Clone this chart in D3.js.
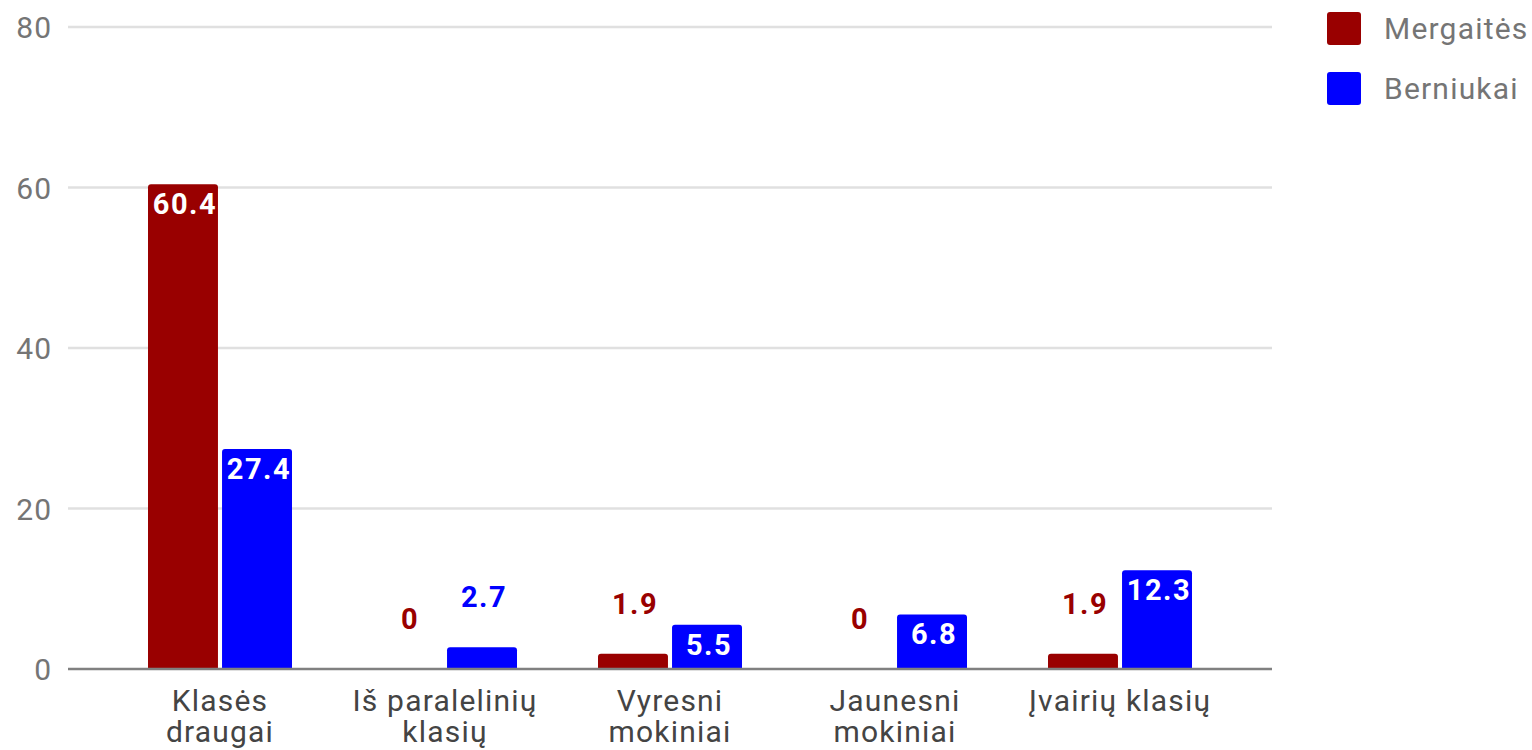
<!DOCTYPE html>
<html>
<head>
<meta charset="utf-8">
<script src="https://cdn.jsdelivr.net/npm/d3@7"></script>
<style>
  body { margin: 0; background: #fff; }
  text { font-family: Roboto, "Noto Sans", sans-serif; }
</style>
</head>
<body>
<script>
// ---------------- data ----------------
var categories = ["Klasės draugai", "Iš paralelinių klasių", "Vyresni mokiniai", "Jaunesni mokiniai", "Įvairių klasių"];
var seriesNames = ["Mergaitės", "Berniukai"];
var mergaites = [60.4, 0, 1.9, 0, 1.9];
var berniukai = [27.4, 2.7, 5.5, 6.8, 12.3];
var yTicks = [0, 20, 40, 60, 80];
var colors = ["#990000", "#0000ff"];

var W = 1532, H = 750;
var svg = d3.select("body").append("svg").attr("width", W).attr("height", H);

// ---------------- scales ----------------
var x0 = d3.scaleBand().domain(categories).range([107.5, 1232.5])
    .paddingInner(0.36).paddingOuter(0.18);
var x1 = d3.scaleBand().domain(seriesNames).range([0, x0.bandwidth()])
    .paddingInner(0.055);
var y = d3.scaleLinear().domain([0, 80]).range([669, 27]);
var color = d3.scaleOrdinal().domain(seriesNames).range(colors);

// ---------------- gridlines + y labels ----------------
svg.append("g").selectAll("line")
    .data(yTicks.filter(function(d) { return d > 0; }))
    .enter().append("line")
    .attr("x1", 68).attr("x2", 1272)
    .attr("y1", function(d) { return y(d); }).attr("y2", function(d) { return y(d); })
    .attr("stroke", "#e0e0e0").attr("stroke-width", 2.5);

svg.append("g").selectAll("text")
    .data(yTicks).enter().append("text")
    .attr("x", 52).attr("y", function(d) { return y(d) + 11; })
    .attr("text-anchor", "end")
    .attr("font-size", 30).attr("letter-spacing", 1).attr("fill", "#757575")
    .text(function(d) { return d; });

// ---------------- bars ----------------
var rows = categories.map(function(c, i) {
  return { cat: c, vals: [
    { key: seriesNames[0], value: mergaites[i] },
    { key: seriesNames[1], value: berniukai[i] }
  ]};
});

function topRounded(x, yTop, w, h, r) {
  if (h <= 0) return "";
  r = Math.min(r, h, w / 2);
  return "M" + x + "," + (yTop + h) +
    "V" + (yTop + r) + "Q" + x + "," + yTop + " " + (x + r) + "," + yTop +
    "H" + (x + w - r) + "Q" + (x + w) + "," + yTop + " " + (x + w) + "," + (yTop + r) +
    "V" + (yTop + h) + "Z";
}

var groups = svg.append("g").selectAll("g")
    .data(rows).enter().append("g")
    .attr("transform", function(d) { return "translate(" + x0(d.cat) + ",0)"; });

groups.selectAll("path")
    .data(function(d) { return d.vals; })
    .enter().append("path")
    .attr("d", function(d) {
      return topRounded(x1(d.key), y(d.value), x1.bandwidth(), y(0) - y(d.value), 3);
    })
    .attr("fill", function(d) { return color(d.key); });

// value labels: inside bar if it fits, else above it
groups.selectAll("text")
    .data(function(d) { return d.vals; })
    .enter().append("text")
    .attr("x", function(d) { return x1(d.key) + x1.bandwidth() / 2 + 2; })
    .attr("y", function(d) {
      var h = y(0) - y(d.value);
      return h > 35 ? y(d.value) + 30 : y(d.value) - 40;
    })
    .attr("text-anchor", "middle")
    .attr("font-size", 29).attr("font-weight", "bold").attr("letter-spacing", 1.5)
    .attr("fill", function(d) { return (y(0) - y(d.value)) > 35 ? "#fff" : color(d.key); })
    .text(function(d) { return d.value; });

// baseline
svg.append("line")
    .attr("x1", 68).attr("x2", 1272).attr("y1", y(0)).attr("y2", y(0))
    .attr("stroke", "#808080").attr("stroke-width", 2.5);

// ---------------- category labels ----------------
svg.append("g").selectAll("text")
    .data(categories).enter().append("text")
    .attr("x", function(d) { return x0(d) + x0.bandwidth() / 2; })
    .attr("y", 711)
    .attr("text-anchor", "middle")
    .attr("font-size", 30).attr("letter-spacing", 1.2).attr("fill", "#444")
    .each(function(d) {
      var el = d3.select(this), words = d.split(" "), line = [];
      var ts = el.append("tspan").attr("x", el.attr("x"));
      words.forEach(function(w) {
        line.push(w);
        ts.text(line.join(" "));
        if (ts.node().getComputedTextLength() > 200 && line.length > 1) {
          line.pop();
          ts.text(line.join(" "));
          line = [w];
          ts = el.append("tspan").attr("x", el.attr("x")).attr("dy", 31).text(w);
        }
      });
    });

// ---------------- legend ----------------
var legend = svg.append("g").selectAll("g")
    .data(seriesNames).enter().append("g")
    .attr("transform", function(d, i) { return "translate(1327," + (12 + i * 60) + ")"; });

legend.append("rect")
    .attr("width", 34).attr("height", 33).attr("rx", 3)
    .attr("fill", function(d) { return color(d); });

legend.append("text")
    .attr("x", 57).attr("y", 27)
    .attr("font-size", 30).attr("letter-spacing", 1.2).attr("fill", "#757575")
    .text(function(d) { return d; });
</script>
</body>
</html>
